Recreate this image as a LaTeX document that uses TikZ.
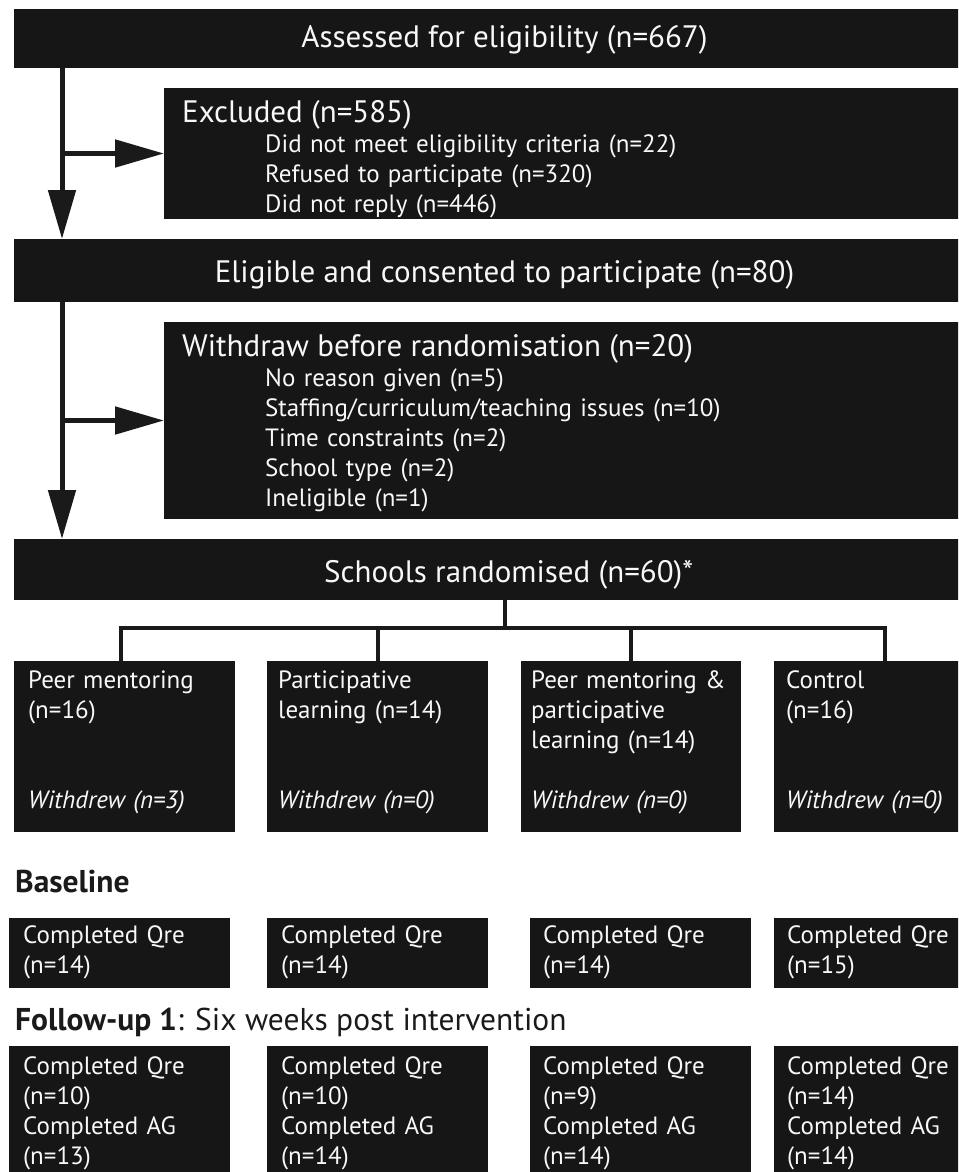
\documentclass[tikz,border=0pt]{standalone}
\usepackage{fontspec}
\setmainfont{PT Sans}
\usetikzlibrary{arrows.meta}
\definecolor{boxc}{HTML}{161616}
\definecolor{txtc}{HTML}{F8F8F8}
\definecolor{linec}{HTML}{1A1A1A}
\tikzset{
  box/.style={rectangle, fill=boxc, draw=none, anchor=north west, inner sep=0pt, outer sep=0pt},
  big/.style={text=txtc, inner sep=0pt, font=\fontsize{31}{36}\selectfont},
  sub/.style={text=txtc, inner sep=0pt, anchor=base west, align=left, text width=600pt, font=\fontsize{25}{30.2}\selectfont},
  grp/.style={text=txtc, inner sep=0pt, anchor=base west, align=left, text width=210pt, font=\fontsize{25}{30}\selectfont},
  head/.style={text=linec, inner sep=0pt, anchor=base west, font=\fontsize{31.5}{36}\selectfont},
  arr/.style={draw=linec, line width=5pt, -{Triangle[length=49pt,width=27pt]}},
  tree/.style={draw=linec, line width=4pt},
}
\begin{document}
\begin{tikzpicture}[x=1pt,y=-1pt]
\useasboundingbox (0,0) rectangle (958,1172);
\clip (0,0) rectangle (958,1172);
% main boxes
\node[box, minimum width=981pt, minimum height=59pt] (top) at (14,9) {};
\node[box, minimum width=831pt, minimum height=131pt] (excl) at (164,88) {};
\node[box, minimum width=981pt, minimum height=63pt] (elig) at (14,239) {};
\node[box, minimum width=831pt, minimum height=197pt] (wd) at (164,322) {};
\node[box, minimum width=981pt, minimum height=61pt] (rand) at (14,539) {};
% texts of main boxes
\node[big, anchor=base] (ttop) at (504.5,48) {Assessed for eligibility (n=667)};
\node[big, anchor=base west] (texcl) at (182,122) {Excluded (n=585)};
\node[sub] (sexcl) at (265,152) {Did not meet eligibility criteria (n=22)\\Refused to participate (n=320)\\Did not reply (n=446)};
\node[big, anchor=base] (telig) at (504.5,282) {Eligible and consented to participate (n=80)};
\node[big, anchor=base west] (twd) at (182,356) {Withdraw before randomisation (n=20)};
\node[sub] (swd) at (265,386) {No reason given (n=5)\\Staffing/curriculum/teaching issues (n=10)\\Time constraints (n=2)\\School type (n=2)\\Ineligible (n=1)};
\node[big, anchor=base west] (trand) at (324,582) {Schools randomised (n=60)*};
% arrows
\draw[arr] ([xshift=48pt]top.south west) -- ([xshift=48pt]elig.north west);
\draw[arr] ([xshift=48pt]top.south west |- excl.west) -- (excl.west);
\draw[arr] ([xshift=48pt]elig.south west) -- ([xshift=48pt]rand.north west);
\draw[arr] ([xshift=48pt]elig.south west |- wd.west) -- (wd.west);
% group boxes
\node[box, minimum width=221pt, minimum height=171pt] (g1) at (14,661) {};
\node[box, minimum width=221pt, minimum height=171pt] (g2) at (267,661) {};
\node[box, minimum width=220pt, minimum height=171pt] (g3) at (521,661) {};
\node[box, minimum width=221pt, minimum height=171pt] (g4) at (774,661) {};
\node[grp] (tg1) at (28,688) {Peer mentoring\\(n=16)};
\node[grp] (tg2) at (278,688) {Participative\\learning (n=14)};
\node[grp] (tg3) at (531,688) {Peer mentoring \&\\participative\\learning (n=14)};
\node[grp] (tg4) at (786,688) {Control\\(n=16)};
\node[grp, font=\fontsize{25}{30}\selectfont\itshape] (wg1) at (28,808) {Withdrew (n=3)};
\node[grp, font=\fontsize{25}{30}\selectfont\itshape] (wg2) at (278,808) {Withdrew (n=0)};
\node[grp, font=\fontsize{25}{30}\selectfont\itshape] (wg3) at (531,808) {Withdrew (n=0)};
\node[grp, font=\fontsize{25}{30}\selectfont\itshape] (wg4) at (786,808) {Withdrew (n=0)};
% tree
\coordinate (hub) at (505,628);
\draw[tree] (rand.south -| hub) -- (hub);
\draw[tree] ([xshift=-4pt]g1.north) -- ([xshift=-4pt]g1.north |- hub) -- (g4.north |- hub) -- (g4.north);
\draw[tree] (g2.north) -- (g2.north |- hub);
\draw[tree] (g3.north) -- (g3.north |- hub);
% baseline
\node[head] (hbase) at (15,892) {\bfseries Baseline};
\node[box, minimum width=221pt, minimum height=70pt] (b1) at (9,918) {};
\node[box, minimum width=221pt, minimum height=70pt] (b2) at (267,918) {};
\node[box, minimum width=221pt, minimum height=70pt] (b3) at (530,918) {};
\node[box, minimum width=221pt, minimum height=70pt] (b4) at (774,918) {};
\node[grp] (tb1) at (23,943) {Completed Qre\\(n=14)};
\node[grp] (tb2) at (281,943) {Completed Qre\\(n=14)};
\node[grp] (tb3) at (543,943) {Completed Qre\\(n=14)};
\node[grp] (tb4) at (787,943) {Completed Qre\\(n=15)};
% follow-up
\node[head] (hfu) at (15,1030) {\textbf{Follow-up 1}: Six weeks post intervention};
\node[box, minimum width=221pt, minimum height=140pt] (f1) at (9,1046) {};
\node[box, minimum width=221pt, minimum height=140pt] (f2) at (267,1046) {};
\node[box, minimum width=221pt, minimum height=140pt] (f3) at (530,1046) {};
\node[box, minimum width=221pt, minimum height=140pt] (f4) at (774,1046) {};
\node[grp, font=\fontsize{25}{30.3}\selectfont] (tf1) at (23,1074) {Completed Qre\\(n=10)\\Completed AG\\(n=13)};
\node[grp, font=\fontsize{25}{30.3}\selectfont] (tf2) at (281,1074) {Completed Qre\\(n=10)\\Completed AG\\(n=14)};
\node[grp, font=\fontsize{25}{30.3}\selectfont] (tf3) at (543,1074) {Completed Qre\\(n=9)\\Completed AG\\(n=14)};
\node[grp, font=\fontsize{25}{30.3}\selectfont] (tf4) at (787,1074) {Completed Qre\\(n=14)\\Completed AG\\(n=14)};
\end{tikzpicture}
\end{document}
